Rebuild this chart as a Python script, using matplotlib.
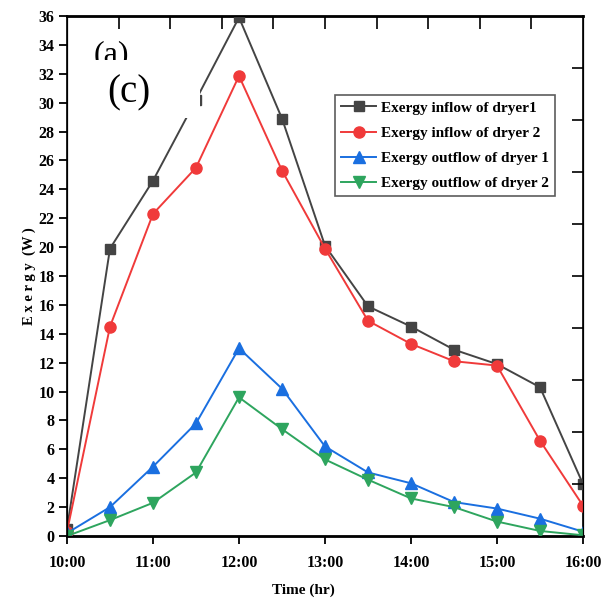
import numpy as np
import matplotlib
matplotlib.use('Agg')
import matplotlib.pyplot as plt
from matplotlib.patches import Rectangle

# horas (decimal) y etiquetas
horas = [10, 10.5, 11, 11.5, 12, 12.5, 13, 13.5, 14, 14.5, 15, 15.5, 16]
etiquetas = ['10:00', '11:00', '12:00', '13:00', '14:00', '15:00', '16:00']

in_s1 = [0.5, 19.9, 24.6, 30.2, 35.9, 28.9, 20.1, 15.9, 14.5, 12.9, 11.9, 10.3, 3.6]
in_s2 = [0.3, 14.5, 22.3, 25.5, 31.85, 25.3, 19.9, 14.9, 13.3, 12.1, 11.8, 6.6, 2.1]
out_s1 = [0.2, 2.0, 4.8, 7.8, 13.0, 10.2, 6.2, 4.4, 3.65, 2.35, 1.9, 1.2, 0.3]
out_s2 = [0.0, 1.1, 2.3, 4.4, 9.6, 7.4, 5.3, 3.9, 2.6, 2.0, 1.0, 0.35, 0.05]

nombres = ['Exergy inflow of dryer1', 'Exergy inflow of dryer 2',
           'Exergy outflow of dryer 1', 'Exergy outflow of dryer 2']

plt.rcParams['font.family'] = ['Liberation Serif', 'DejaVu Serif']

fig = plt.figure(figsize=(6.06, 5.99), dpi=100)
ax = fig.add_axes([67/606, 63/599, 516/606, 520/599])

ax.plot(horas, in_s1, color='#444444', marker='s', ms=7.5, lw=1.4, label=nombres[0], zorder=3)
ax.plot(horas, in_s2, color='#f03a3a', marker='o', ms=8, lw=1.4, label=nombres[1], zorder=3)
ax.plot(horas, out_s1, color='#1a6fe0', marker='^', ms=8.5, lw=1.4, label=nombres[2], zorder=3)
ax.plot(horas, out_s2, color='#2ea55e', marker='v', ms=8.5, lw=1.4, label=nombres[3], zorder=3)

ax.set_xlim(10, 16)
ax.set_ylim(0, 36)
ax.set_xticks(range(10, 17))
ax.set_xticklabels(etiquetas)
ax.set_yticks(range(0, 37, 2))
ax.tick_params(axis='both', direction='out', length=6, width=1.3, labelsize=11.5, pad=3)
ax.tick_params(axis='x', pad=8)
for lab in ax.get_xticklabels() + ax.get_yticklabels():
    lab.set_fontweight('bold')
for s in ax.spines.values():
    s.set_linewidth(1.2)
ax.spines['bottom'].set_linewidth(2.0)
ax.spines['top'].set_linewidth(2.0)

# ejes secundarios (arriba y derecha) con 10 divisiones
ax2 = ax.twiny()
ax2.set_xlim(0, 10)
ax2.set_xticks(range(1, 10))
ax2.tick_params(axis='x', direction='in', length=9, width=1.2, labeltop=False)
ax3 = ax.twinx()
ax3.set_ylim(0, 10)
ax3.set_yticks(range(1, 10))
ax3.tick_params(axis='y', direction='in', length=8, width=1.2, labelright=False)

ax.set_ylabel('E x e r g y  (W )', fontsize=10.5, fontweight='bold', labelpad=2)
fig.text(303/606, 1 - 590/599, 'Time (hr)', fontsize=11, fontweight='bold',
         ha='center', va='center')

# etiqueta (a) tapada por un recuadro blanco con (c)
ftr = fig.transFigure
ax3.text(94/606, 1 - 40/599, '(a)', transform=ftr, fontsize=23, va='top', ha='left',
         zorder=4, clip_on=False)
ax3.add_patch(Rectangle((90/606, 1 - 118/599), 110/606, 58/599, transform=ftr,
                        facecolor='white', edgecolor='none', zorder=5, clip_on=False))
ax3.text(107/606, 1 - 93/599, '(c)', transform=ftr, fontsize=28, va='center', ha='left',
         zorder=6, clip_on=False)

leg = ax3.legend(*ax.get_legend_handles_labels(), loc='upper left',
                 bbox_to_anchor=(335/606, 1 - 95/599), bbox_transform=ftr,
                 frameon=True, fancybox=False, edgecolor='#333333', borderpad=0.4,
                 handlelength=2.3, handletextpad=0.3, labelspacing=0.75,
                 prop={'weight': 'bold', 'size': 11}, borderaxespad=0)
leg.get_frame().set_linewidth(1.2)
leg.set_zorder(10)

fig.savefig('out.png', dpi=100)
